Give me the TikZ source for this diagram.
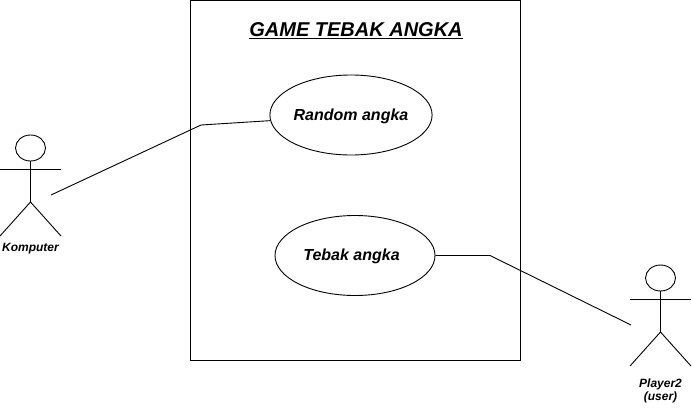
\documentclass[tikz,border=0pt]{standalone}
\usepackage{fontspec}
\setmainfont{Liberation Sans}
\usetikzlibrary{shapes.geometric, positioning}

\newcommand{\titleline}[1]{\setbox0\hbox{#1}\rlap{\rule[-3pt]{\wd0}{1.4pt}}\box0}

\tikzset{
    line/.style={draw=black, line width=0.9pt},
    usecase/.style={ellipse, draw=black, line width=0.9pt, minimum width=160pt, minimum height=80pt, inner sep=0pt, font=\fontsize{16}{18}\selectfont\bfseries\itshape},
    actorhead/.style={ellipse, draw=black, line width=0.9pt, minimum width=30pt, minimum height=26pt, inner sep=0pt},
    actorlabel/.style={align=center, inner sep=0pt, font=\fontsize{12}{13.5}\selectfont\bfseries\itshape}
}

\begin{document}
\begin{tikzpicture}[x=1pt, y=-1pt]

\useasboundingbox (0,0) rectangle (692,407);

% System box
\node[draw=black, line width=0.9pt, minimum width=330pt, minimum height=360pt, inner sep=0pt] (system) at (355.5,180.5) {};
\node[font=\fontsize{20}{24}\selectfont\bfseries\itshape, inner sep=0pt] (title) at (356,31) {\titleline{GAME TEBAK ANGKA}};

% Use cases
\node[usecase] (random) at (351,115) {\rule{0pt}{13.6pt}Random angka};
\node[usecase] (tebak) at (355,255.5) {\rule{0pt}{12.6pt}Tebak angka\hspace{7pt}\mbox{}};

% Actors
\foreach \name/\x/\y in {komputer/30.5/148, player/660.5/278}
{
    \node[actorhead] (\name head) at (\x,\y) {};
    \coordinate (\name neck) at (\x,\y+13);
    \coordinate (\name hip) at (\x,\y+54);
    \coordinate (\name larm) at (\x-30.5,\y+21);
    \coordinate (\name rarm) at (\x+30.5,\y+21);
    \coordinate (\name lleg) at (\x-30.5,\y+88);
    \coordinate (\name rleg) at (\x+30.5,\y+88);
    \draw[line] (\name neck) -- (\name hip);
    \draw[line] (\name larm) -- (\name rarm);
    \draw[line] (\name lleg) -- (\name hip) -- (\name rleg);
}

% Labels of the actors
\node[actorlabel] (komputerlabel) at (30.5,249) {Komputer};
\node[actorlabel] (playerlabel) at (660.5,391) {Player2\\(user)};

% Connectors
\coordinate (komputerend) at (51,195);
\coordinate (komputerbend) at (201,125);
\coordinate (playerend) at (631,325);
\coordinate (playerbend) at (490,255.5);
\draw[line] (komputerend) -- (komputerbend) -- (random.184);
\draw[line] (tebak.east) -- (playerbend) -- (playerend);

\end{tikzpicture}
\end{document}
